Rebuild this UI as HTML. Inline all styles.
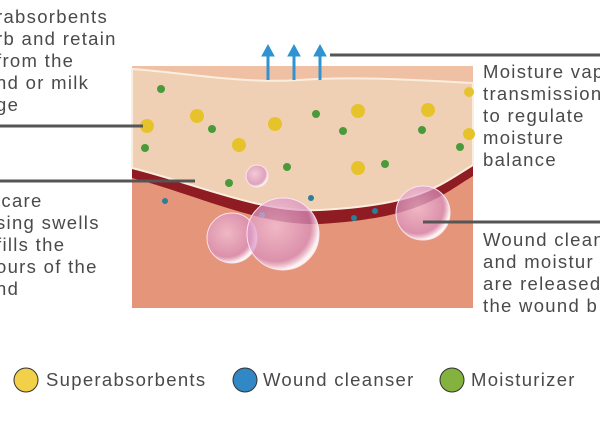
<!DOCTYPE html>
<html><head><style>
body{margin:0;background:#fff;width:600px;height:427px;overflow:hidden;font-family:"Liberation Sans",sans-serif;}
svg{position:absolute;left:0;top:0}
.t{position:absolute;color:#4a4a4a;font-size:18.5px;letter-spacing:1.3px;line-height:22px;white-space:nowrap}
</style></head><body>
<svg width="600" height="427">
<defs>
<radialGradient id="b" cx="40%" cy="40%" r="60%"><stop offset="0" stop-color="#f4c6e4" stop-opacity=".7"/><stop offset=".8" stop-color="#d88fc0" stop-opacity=".7"/><stop offset="1" stop-color="#fff" stop-opacity=".9"/></radialGradient>
</defs>
<rect x="132" y="66" width="341" height="242" fill="#e5957a"/>
<path d="M132 100 L473 100 L473 176 C440 196 420 218 320 224 C260 226 200 196 132 178 Z" fill="#8e1c22"/>
<path d="M132 100 L473 100 L473 160 C440 180 420 198 320 203 C260 205 200 180 132 160 Z" fill="#7a1319"/>
<rect x="132" y="66" width="341" height="40" fill="#efc0a3"/>
<path d="M132 69 C180 72 240 84 300 80 C350 76 420 80 473 83 L473 165 C440 185 420 205 320 210 C260 213 200 185 132 168 Z" fill="#f0d0b4" stroke="#fbeede" stroke-width="2"/>
<g fill="#e7c32b"><circle cx="147" cy="126" r="7"/><circle cx="197" cy="116" r="7"/><circle cx="275" cy="124" r="7"/><circle cx="239" cy="145" r="7"/><circle cx="358" cy="111" r="7"/><circle cx="428" cy="110" r="7"/><circle cx="358" cy="168" r="7"/><circle cx="469" cy="134" r="6"/><circle cx="469" cy="92" r="5"/></g>
<g fill="#4a9a3a"><circle cx="161" cy="89" r="4"/><circle cx="212" cy="129" r="4"/><circle cx="145" cy="148" r="4"/><circle cx="229" cy="183" r="4"/><circle cx="287" cy="167" r="4"/><circle cx="343" cy="131" r="4"/><circle cx="385" cy="164" r="4"/><circle cx="422" cy="130" r="4"/><circle cx="460" cy="147" r="4"/><circle cx="316" cy="114" r="4"/></g>
<g fill="#2b7f9a"><circle cx="165" cy="201" r="3"/><circle cx="311" cy="198" r="3"/><circle cx="354" cy="218" r="3"/><circle cx="375" cy="211" r="3"/><circle cx="262" cy="215" r="3"/></g>
<circle cx="232" cy="238" r="25" fill="url(#b)" stroke="#fbe3f2"/>
<circle cx="283" cy="234" r="36" fill="url(#b)" stroke="#fbe3f2"/>
<circle cx="423" cy="213" r="27" fill="url(#b)" stroke="#fbe3f2"/>
<circle cx="257" cy="176" r="11" fill="url(#b)" stroke="#fbe3f2"/>
<g fill="#2f93d1" stroke="#2f93d1" stroke-width="3"><line x1="268" y1="80" x2="268" y2="54"/><line x1="294" y1="80" x2="294" y2="54"/><line x1="320" y1="80" x2="320" y2="54"/>
<path d="M262 56 L268 45 L274 56Z" stroke-width="1"/><path d="M288 56 L294 45 L300 56Z" stroke-width="1"/><path d="M314 56 L320 45 L326 56Z" stroke-width="1"/></g>
<g stroke="#555" stroke-width="3"><line x1="0" y1="126" x2="143" y2="126"/><line x1="0" y1="181" x2="195" y2="181"/><line x1="330" y1="55" x2="600" y2="55"/><line x1="423" y1="222" x2="600" y2="222"/></g>
<g stroke="#333" stroke-width="1"><circle cx="26" cy="380" r="12" fill="#f2d04a"/><circle cx="245" cy="380" r="12" fill="#3188c4"/><circle cx="452" cy="380" r="12" fill="#83b23f"/></g>
</svg>
<div class="t" style="left:-4px;top:6px">rabsorbents<br>rb and retain<br>from the<br>nd or milk<br>ge</div>
<div class="t" style="left:-4px;top:190px">icare<br>sing swells<br>fills the<br>ours of the<br>nd</div>
<div class="t" style="left:483px;top:61px">Moisture vap<br>transmission<br>to regulate<br>moisture<br>balance</div>
<div class="t" style="left:483px;top:229px">Wound clean<br>and moistur<br>are released<br>the wound b</div>
<div class="t" style="left:46px;top:369px">Superabsorbents</div>
<div class="t" style="left:263px;top:369px">Wound cleanser</div>
<div class="t" style="left:471px;top:369px">Moisturizer</div>
</body></html>
